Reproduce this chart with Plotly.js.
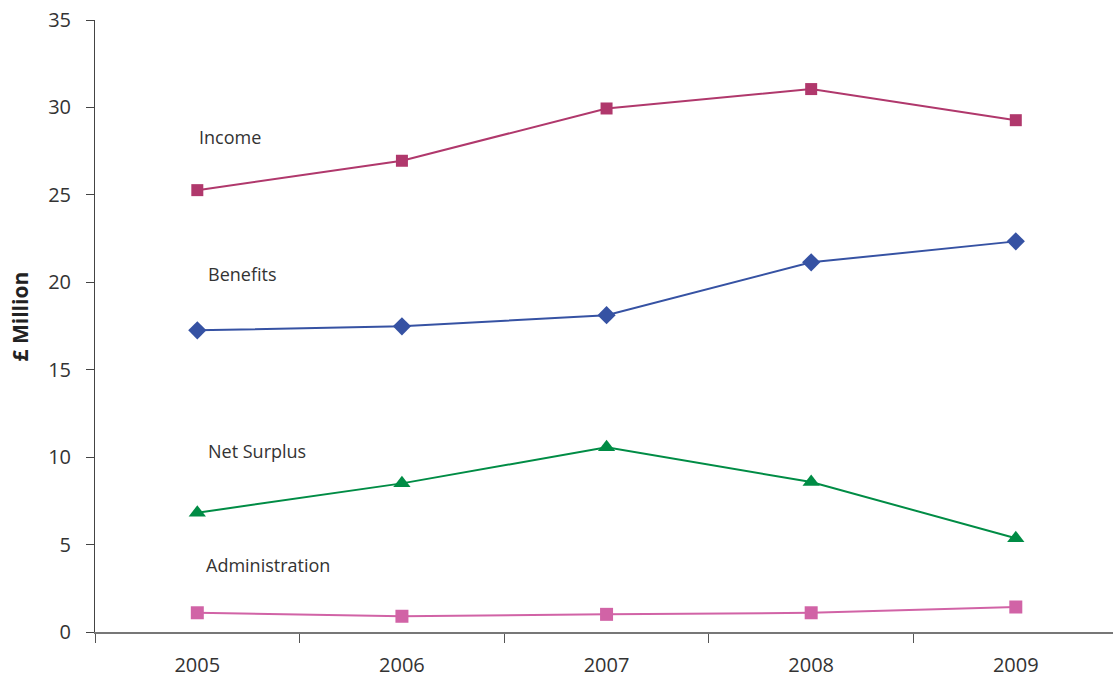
<!DOCTYPE html>
<html>
<head>
<meta charset="utf-8">
<script src="https://cdn.plot.ly/plotly-3.0.1.min.js"></script>
<style>html,body{margin:0;padding:0;background:#fff}#chart{width:1113px;height:681px}</style>
</head>
<body>
<div id="chart"></div>
<script>
const years = ["2005", "2006", "2007", "2008", "2009"];
const income = [25.27, 26.95, 29.94, 31.05, 29.27];
const benefits = [17.25, 17.48, 18.12, 21.14, 22.34];
const netSurplus = [6.82, 8.50, 10.56, 8.58, 5.36];
const administration = [1.10, 0.90, 1.01, 1.10, 1.43];
const seriesNames = ["Income", "Benefits", "Net Surplus", "Administration"];
const yTicks = [0, 5, 10, 15, 20, 25, 30, 35];

const FONT = "Open Sans, Noto Sans, sans-serif";

function tr(y, color, symbol, size, name) {
  return {
    x: years, y: y, type: "scatter", mode: "lines+markers", name: name,
    line: {color: color, width: 2},
    marker: {color: color, symbol: symbol, size: size, line: {width: 0}},
    hoverinfo: "x+y+name"
  };
}

const data = [
  tr(income, "#b0386c", "square", 12, seriesNames[0]),
  tr(benefits, "#3652a3", "diamond", 14, seriesNames[1]),
  tr(netSurplus, "#008c45", "triangle-up", 15, seriesNames[2]),
  tr(administration, "#d163a6", "square", 13, seriesNames[3])
];

const labelPos = [
  {x: 0, y: 28.3},
  {x: 0.04, y: 20.5},
  {x: 0.04, y: 10.35},
  {x: 0.035, y: 3.85}
];

const annotations = seriesNames.map((n, i) => ({
  xref: "x", yref: "y", x: labelPos[i].x, y: labelPos[i].y,
  text: n, showarrow: false, xanchor: "left", yanchor: "middle",
  font: {family: FONT, size: 18, color: "#333"}
}));

annotations.push({
  xref: "paper", yref: "paper", x: -0.074, y: 0.515,
  text: "<b>£ Million</b>", showarrow: false, textangle: -90,
  xanchor: "center", yanchor: "middle",
  font: {family: FONT, size: 21, color: "#222"}
});

const layout = {
  width: 1113, height: 681,
  margin: {l: 95, r: 0, t: 20, b: 49},
  paper_bgcolor: "#fff", plot_bgcolor: "#fff",
  showlegend: false,
  font: {family: FONT, color: "#333"},
  xaxis: {
    type: "category", range: [-0.5, 4.475],
    showgrid: false, zeroline: false,
    showline: true, linecolor: "#777", linewidth: 1.5,
    ticks: "outside", tickson: "boundaries", ticklen: 9, tickcolor: "#555", tickwidth: 1,
    ticklabelstandoff: 14,
    tickfont: {family: FONT, size: 20, color: "#333"},
    fixedrange: true
  },
  yaxis: {
    range: [0, 35], tickvals: yTicks,
    showgrid: false, zeroline: false,
    showline: true, linecolor: "#444", linewidth: 1,
    ticks: "outside", ticklen: 8, tickcolor: "#444",
    ticklabelstandoff: 11,
    tickfont: {family: FONT, size: 20, color: "#333"},
    fixedrange: true
  },
  annotations: annotations
};

Plotly.newPlot("chart", data, layout, {displayModeBar: false, staticPlot: true});
</script>
</body>
</html>
